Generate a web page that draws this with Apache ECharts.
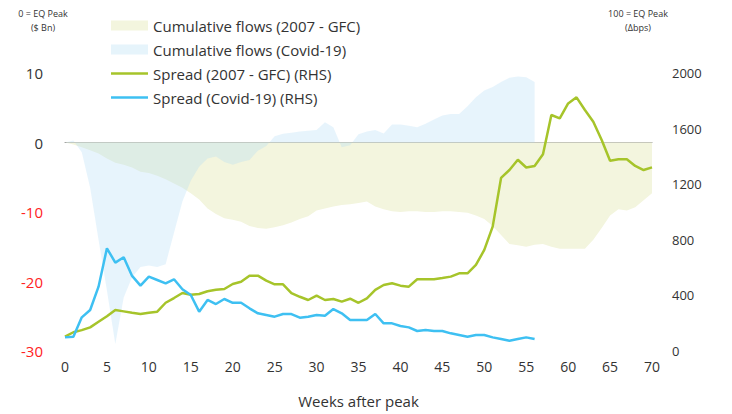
<!DOCTYPE html>
<html>
<head>
<meta charset="utf-8">
<script src="https://cdn.jsdelivr.net/npm/echarts@6/dist/echarts.min.js"></script>
<style>
    html, body { margin: 0; padding: 0; background: #fff; }
    #chart01 { width: 732px; height: 414px; }
</style>
</head>
<body>
<div id="chart01"></div>
<script>
// weeks after the equity peak
var weeks = [];
for (var i = 0; i <= 70; i++) weeks.push(String(i));

// cumulative flows, $ Bn (LHS)
var flowsGfc = [0, -0.3, -0.7, -1.1, -1.6, -2.3, -2.9, -3.2, -3.6, -4.2,
    -4.4, -4.8, -5.3, -5.9, -6.5, -7.3, -8.2, -9.5, -10.3, -10.9,
    -11.1, -11.4, -12.0, -12.3, -12.4, -12.2, -11.9, -11.5, -11.0, -10.6,
    -9.8, -9.5, -9.2, -9.0, -8.9, -8.7, -8.5, -9.2, -9.6, -9.9,
    -10.0, -9.9, -9.9, -10.0, -10.0, -9.9, -9.9, -10.0, -10.1, -10.5,
    -11.0, -12.0, -13.3, -14.6, -14.8, -15.0, -14.7, -14.6, -15.0, -15.3,
    -15.3, -15.3, -15.3, -14.0, -12.3, -10.5, -9.6, -9.8, -9.3, -8.3, -7.3];
var flowsCovid = [0, 0.3, -1.4, -6.5, -14, -21.3, -29, -22.3, -19.4, -17.9,
    -17.7, -17.9, -17.5, -13, -8.5, -5.5, -3.5, -2.3, -2.0, -2.8,
    -3.2, -2.8, -2.5, -1.2, -0.5, 0.9, 1.25, 1.4, 1.6, 1.7,
    1.8, 2.9, 2.2, -0.7, -0.4, 1.2, 1.6, 1.8, 1.3, 2.6,
    2.6, 2.4, 2.2, 2.7, 3.3, 3.9, 4.1, 4.1, 5.2, 6.5,
    7.5, 8.0, 8.7, 9.3, 9.5, 9.4, 8.7];

// spreads, 100 = EQ peak (RHS)
var spreadGfc = [103, 135, 150, 170, 210, 250, 295, 285, 275, 266,
    275, 283, 347, 381, 417, 405, 410, 430, 440, 446,
    482, 498, 542, 542, 506, 480, 480, 417, 390, 367,
    398, 367, 374, 355, 376, 347, 379, 440, 475, 487,
    470, 463, 516, 516, 516, 525, 535, 559, 559, 619,
    727, 895, 1245, 1302, 1376, 1320, 1331, 1415, 1698, 1674,
    1781, 1825, 1734, 1650, 1518, 1369, 1379, 1379, 1331, 1302, 1321];
var spreadCovid = [98, 103, 242, 295, 463, 739, 636, 674, 540, 470,
    535, 511, 487, 516, 444, 403, 283, 367, 338, 374,
    347, 347, 307, 271, 259, 247, 266, 266, 240, 247,
    259, 254, 302, 271, 223, 223, 223, 266, 199, 199,
    180, 170, 144, 151, 144, 144, 127, 115, 103, 115,
    115, 98, 86, 74, 86, 98, 86];

var chart01 = echarts.init(document.getElementById("chart01"), null, {renderer: 'svg'});
var fontName = 'Open Sans';
var lineIcon = 'path://M0,0 L37,0 L37,2.4 L0,2.4 Z';

var option = {
    animation: false,
    textStyle: {fontFamily: fontName},
    legend: {
        orient: 'vertical',
        left: 106,
        top: 13,
        itemWidth: 37,
        itemHeight: 10,
        itemGap: 9,
        textStyle: {fontSize: 15, color: '#333', fontFamily: fontName},
        data: [
            {name: 'Cumulative flows (2007 - GFC)', icon: 'rect'},
            {name: 'Cumulative flows (Covid-19)', icon: 'rect'},
            {name: 'Spread (2007 - GFC) (RHS)', icon: lineIcon},
            {name: 'Spread (Covid-19) (RHS)', icon: lineIcon}
        ]
    },
    grid: {left: 65, right: 80, top: 73, bottom: 63},
    xAxis: {
        type: 'category',
        boundaryGap: false,
        data: weeks,
        name: 'Weeks after peak',
        nameLocation: 'middle',
        nameGap: 42,
        nameTextStyle: {fontSize: 15, color: '#333'},
        axisLine: {lineStyle: {color: '#999', width: 1}},
        axisTick: {show: false},
        axisLabel: {interval: 4, fontSize: 14, color: '#333', margin: 8},
        splitLine: {show: false}
    },
    yAxis: [
        {
            type: 'value',
            min: -30, max: 10, interval: 10,
            axisLine: {show: false},
            axisTick: {show: false},
            splitLine: {show: false},
            axisLabel: {
                fontSize: 15, margin: 22,
                color: function (val) {
                    return Number(val) < 0 ? '#ff2222' : '#333';
                }
            }
        },
        {
            type: 'value',
            min: 0, max: 2000, interval: 400,
            axisLine: {show: false},
            axisTick: {show: false},
            splitLine: {show: false},
            axisLabel: {
                fontSize: 13, color: '#333', margin: 20,
                formatter: function (val) { return String(val); }
            }
        }
    ],
    graphic: [
        {type: 'text', x: 43, y: 13,
            style: {text: '0 = EQ Peak', fontSize: 9, fill: '#333', align: 'center', verticalAlign: 'middle', fontFamily: fontName}},
        {type: 'text', x: 43, y: 27,
            style: {text: '($ Bn)', fontSize: 9, fill: '#333', align: 'center', verticalAlign: 'middle', fontFamily: fontName}},
        {type: 'text', x: 638, y: 13,
            style: {text: '100 = EQ Peak', fontSize: 9, fill: '#333', align: 'center', verticalAlign: 'middle', fontFamily: fontName}},
        {type: 'text', x: 638, y: 27,
            style: {text: '(Δbps)', fontSize: 9, fill: '#333', align: 'center', verticalAlign: 'middle', fontFamily: fontName}}
    ],
    series: [
        {
            name: 'Cumulative flows (2007 - GFC)',
            type: 'line',
            yAxisIndex: 0,
            data: flowsGfc,
            symbol: 'none',
            z: 1,
            itemStyle: {color: '#f3f5de'},
            lineStyle: {width: 0, opacity: 0},
            areaStyle: {color: '#f3f5de', opacity: 1}
        },
        {
            name: 'Cumulative flows (Covid-19)',
            type: 'line',
            yAxisIndex: 0,
            data: flowsCovid,
            symbol: 'none',
            z: 2,
            itemStyle: {color: '#e6f4fb'},
            lineStyle: {width: 0, opacity: 0},
            areaStyle: {color: 'rgba(175,220,245,0.3)', opacity: 1}
        },
        {
            name: 'Spread (2007 - GFC) (RHS)',
            type: 'line',
            yAxisIndex: 1,
            data: spreadGfc,
            symbol: 'none',
            z: 3,
            itemStyle: {color: '#a6c42a'},
            lineStyle: {width: 2.5, color: '#a6c42a'}
        },
        {
            name: 'Spread (Covid-19) (RHS)',
            type: 'line',
            yAxisIndex: 1,
            data: spreadCovid,
            symbol: 'none',
            z: 4,
            itemStyle: {color: '#3ec0f2'},
            lineStyle: {width: 2.5, color: '#3ec0f2'}
        }
    ]
};

if (option && typeof option === "object") {
    chart01.setOption(option, true);
}
</script>
</body>
</html>
